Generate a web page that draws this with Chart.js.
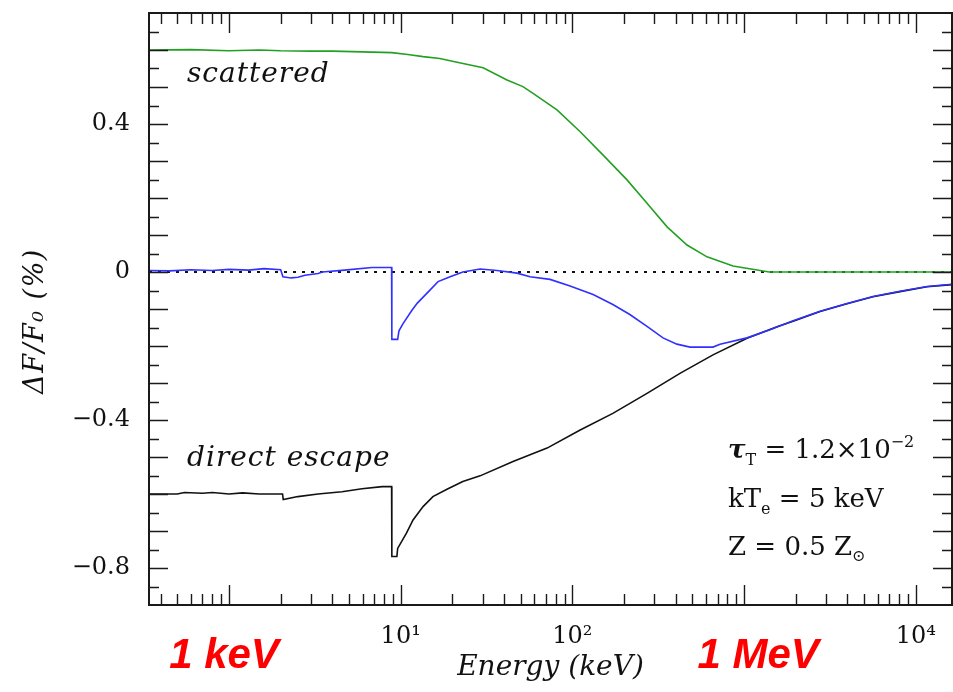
<!DOCTYPE html>
<html>
<head>
<meta charset="utf-8">
<script src="https://cdn.jsdelivr.net/npm/chart.js@4.4.0/dist/chart.umd.min.js"></script>
<style>
  html, body { margin: 0; padding: 0; background: #fff; }
  #wrap { width: 953px; height: 692px; }
</style>
</head>
<body>
<div id="wrap"><canvas id="chart" width="953" height="692"></canvas></div>
<script>
// axis ranges and ticks
const xMin = 0.342, xMax = 16250;
const yMin = -0.9, yMax = 0.7;
const xTickValues = [1, 10, 100, 1000, 10000];
const xTickLabels = ['', '10¹', '10²', '', '10⁴'];
const yTickValues = [-0.8, -0.4, 0, 0.4];
const yTickLabels = ['−0.8', '−0.4', '0', '0.4'];

// total (blue)
const totalE = [0.342, 0.45, 0.6, 0.8, 1.0, 1.3, 1.6, 2.0, 2.06, 2.3, 2.52, 2.77, 3.3, 3.5, 4.7, 6.8, 8.85, 8.88, 9.6, 9.77,
  10.3, 11.6, 12.5, 14.8, 16.5, 19.4, 23.0, 29.0, 36.4, 47.6, 56.6, 74.1, 96.9, 132, 172, 216, 272, 337, 406, 484,
  659, 724, 1040, 1415, 1930, 2770, 3975, 5630, 8090, 11620, 16250];
const totalVals = [0.004, 0.003, 0.006, 0.004, 0.007, 0.005, 0.009, 0.006, -0.013, -0.016, -0.014, -0.009, -0.004, 0.0, 0.005, 0.012, 0.012, -0.182, -0.182, -0.159,
  -0.140, -0.104, -0.084, -0.049, -0.026, -0.013, 0.0, 0.008, 0.004, -0.003, -0.013, -0.020, -0.038, -0.061, -0.088, -0.115, -0.147, -0.178, -0.195, -0.203,
  -0.203, -0.195, -0.178, -0.156, -0.132, -0.106, -0.085, -0.066, -0.052, -0.039, -0.033];

// direct escape (black)
const escapeE = [0.342, 0.5, 0.55, 0.7, 0.8, 1.0, 1.2, 1.5, 2.05, 2.07, 2.52, 3.3, 4.55, 5.95, 7.8, 8.85, 8.88, 9.5, 9.6, 10.8,
  11.8, 13.5, 15.4, 18.6, 23.0, 29.0, 45.1, 71.2, 111, 172, 272, 423, 659, 1040, 1555, 1930, 2770, 3975, 5630, 8090,
  11620, 16250];
const escapeVals = [-0.600, -0.600, -0.596, -0.598, -0.596, -0.600, -0.597, -0.600, -0.600, -0.615, -0.607, -0.600, -0.594, -0.586, -0.580, -0.580, -0.769, -0.769, -0.747, -0.706,
  -0.670, -0.634, -0.607, -0.587, -0.566, -0.551, -0.512, -0.476, -0.427, -0.382, -0.328, -0.274, -0.224, -0.179, -0.148, -0.133, -0.107, -0.086, -0.067, -0.053,
  -0.040, -0.034];

// scattered (green)
const scatterE = [0.342, 0.6, 1.0, 1.5, 2.0, 3.0, 4.0, 6.0, 8.87, 11.0, 13.5, 16.9, 21.3, 30.2, 41.6, 51.5, 59.0, 81.3, 111, 151,
  208, 272, 356, 465, 608, 862, 1238, 1400, 16250];
const scatterVals = [0.600, 0.601, 0.598, 0.600, 0.598, 0.597, 0.597, 0.595, 0.593, 0.588, 0.582, 0.577, 0.567, 0.552, 0.519, 0.501, 0.483, 0.438, 0.379, 0.316,
  0.249, 0.186, 0.122, 0.073, 0.041, 0.016, 0.004, 0.0, 0.0];

const zeroE = [xMin, xMax];
const zeroVals = [0, 0];

const pts = (xs, ys) => xs.map((e, i) => ({x: e, y: ys[i]}));

const line = (data, color, extra) => Object.assign({
  data: data,
  borderColor: color,
  borderWidth: 1.6,
  pointRadius: 0,
  tension: 0,
  fill: false
}, extra || {});

const drawRuns = (ctx, x, y, runs) => {
  runs.forEach(r => {
    ctx.font = r.font;
    ctx.fillText(r.text, x, y + (r.dy || 0));
    x += ctx.measureText(r.text).width;
  });
};

const frameAndText = {
  id: 'frameAndText',
  afterDatasetsDraw(chart) {
    const {ctx, chartArea: a, scales: {x, y}} = chart;
    ctx.save();

    // inward ticks on all four sides
    ctx.strokeStyle = '#1a1a1a';
    ctx.lineWidth = 1.4;
    ctx.beginPath();
    for (let d = -1; d <= 4; d++) {
      for (let m = 1; m < 10; m++) {
        const v = m * Math.pow(10, d);
        if (v <= x.min || v >= x.max) continue;
        const px = Math.round(x.getPixelForValue(v)) + 0.5;
        const len = m === 1 ? 20 : 11;
        ctx.moveTo(px, a.bottom); ctx.lineTo(px, a.bottom - len);
        ctx.moveTo(px, a.top); ctx.lineTo(px, a.top + len);
      }
    }
    for (let i = -17; i <= 13; i++) {
      const py = Math.round(y.getPixelForValue(i * 0.05)) + 0.5;
      const len = i % 2 === 0 ? 19 : 10;
      ctx.moveTo(a.left, py); ctx.lineTo(a.left + len, py);
      ctx.moveTo(a.right, py); ctx.lineTo(a.right - len, py);
    }
    ctx.stroke();

    ctx.lineWidth = 2;
    ctx.strokeRect(a.left, a.top, a.right - a.left, a.bottom - a.top);

    // curve labels
    ctx.fillStyle = '#111';
    ctx.textAlign = 'left';
    ctx.textBaseline = 'alphabetic';
    ctx.letterSpacing = '1px';
    ctx.font = 'italic 28px "DejaVu Serif"';
    ctx.fillText('scattered', a.left + 38, 82);
    ctx.fillText('direct escape', a.left + 38, 466);
    ctx.letterSpacing = '0px';

    // parameters
    const big = '26px "DejaVu Serif"';
    const small = '16px "DejaVu Serif"';
    drawRuns(ctx, 728, 458, [
      {text: 'τ', font: 'italic bold 26px "DejaVu Serif"'},
      {text: 'T', font: small, dy: 7},
      {text: ' = 1.2×10', font: big},
      {text: '−2', font: small, dy: -11}
    ]);
    drawRuns(ctx, 728, 507, [
      {text: 'kT', font: big},
      {text: 'e', font: small, dy: 7},
      {text: ' = 5 keV', font: big}
    ]);
    drawRuns(ctx, 728, 555, [
      {text: 'Z = 0.5 Z', font: big},
      {text: '⊙', font: small, dy: 6}
    ]);

    // y title
    ctx.save();
    ctx.translate(36, 321);
    ctx.rotate(-Math.PI / 2);
    ctx.textAlign = 'center';
    ctx.textBaseline = 'middle';
    ctx.letterSpacing = '1.5px';
    ctx.font = 'italic 27px "DejaVu Serif"';
    ctx.fillText('ΔF/F₀ (%)', 0, 0);
    ctx.restore();

    // red energy markers in place of 10^0 and 10^3
    ctx.fillStyle = '#ff0000';
    ctx.textAlign = 'center';
    ctx.font = 'italic bold 42px "Liberation Sans"';
    ctx.fillText('1 keV', x.getPixelForValue(1) - 5, 668);
    ctx.fillText('1 MeV', x.getPixelForValue(1000) + 14, 668);

    ctx.restore();
  }
};

const chart = new Chart(document.getElementById('chart'), {
  type: 'line',
  data: {
    datasets: [
      line(pts(totalE, totalVals), '#3030ff'),
      line(pts(scatterE, scatterVals), '#22a022'),
      line(pts(escapeE, escapeVals), '#111111'),
      line(pts(zeroE, zeroVals), '#111111', {borderDash: [3, 6], borderWidth: 2})
    ]
  },
  options: {
    responsive: false,
    animation: false,
    devicePixelRatio: 1,
    layout: {padding: {top: 13, right: 1, left: 0, bottom: 0}},
    plugins: {legend: {display: false}, tooltip: {enabled: false}},
    scales: {
      x: {
        type: 'logarithmic',
        bounds: 'data',
        min: xMin,
        max: xMax,
        grid: {display: false, drawTicks: false},
        border: {display: false},
        afterBuildTicks: s => { s.ticks = xTickValues.map(v => ({value: v})); },
        afterFit: s => { s.height = 87; s.paddingLeft = 0; s.paddingRight = 0; },
        ticks: {
          autoSkip: false,
          maxRotation: 0,
          padding: 17,
          color: '#111',
          font: {family: 'DejaVu Serif', size: 24},
          callback: (v, i) => xTickLabels[i]
        },
        title: {
          display: true,
          text: 'Energy (keV)',
          color: '#111',
          font: {family: 'DejaVu Serif', style: 'italic', size: 28},
          padding: {top: 0, bottom: 7}
        }
      },
      y: {
        type: 'linear',
        bounds: 'data',
        min: yMin,
        max: yMax,
        grid: {display: false, drawTicks: false},
        border: {display: false},
        afterBuildTicks: s => { s.ticks = yTickValues.map(v => ({value: v})); },
        afterFit: s => { s.width = 149; s.paddingTop = 0; s.paddingBottom = 0; },
        ticks: {
          autoSkip: false,
          padding: 19,
          color: '#111',
          font: {family: 'DejaVu Serif', size: 24},
          callback: (v, i) => yTickLabels[i]
        }
      }
    }
  },
  plugins: [frameAndText]
});
</script>
</body>
</html>
